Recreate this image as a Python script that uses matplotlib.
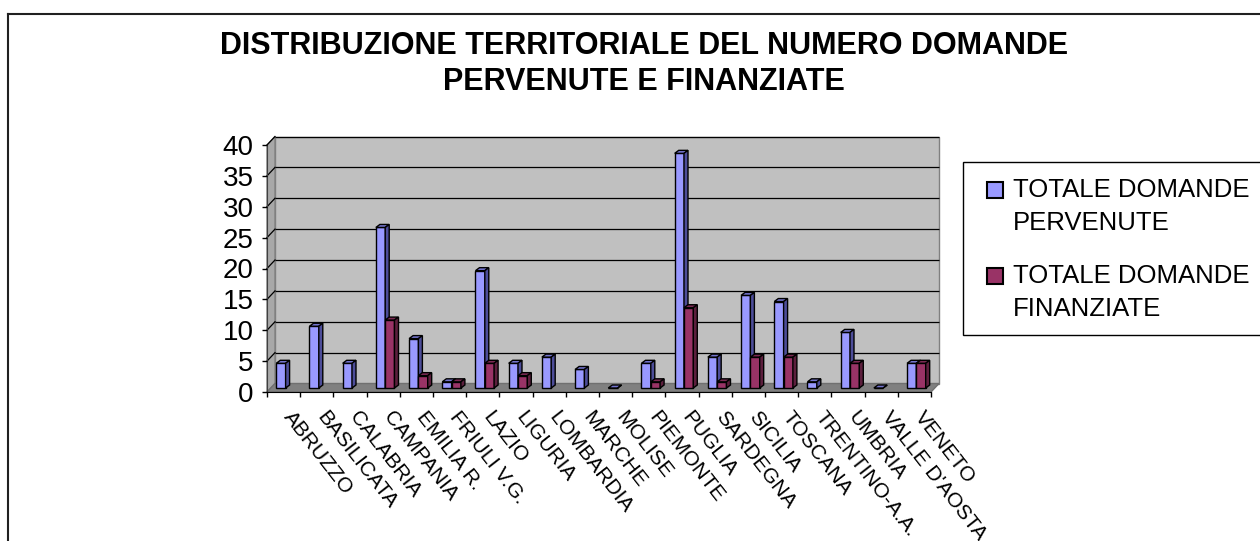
import numpy as np
import matplotlib
matplotlib.use("Agg")
import matplotlib.pyplot as plt
from matplotlib.patches import Polygon, Rectangle
from matplotlib.lines import Line2D
from matplotlib.transforms import offset_copy, IdentityTransform

# valori
regioni = ["ABRUZZO", "BASILICATA", "CALABRIA", "CAMPANIA", "EMILIA R.", "FRIULI V.G.",
           "LAZIO", "LIGURIA", "LOMBARDIA", "MARCHE", "MOLISE", "PIEMONTE", "PUGLIA",
           "SARDEGNA", "SICILIA", "TOSCANA", "TRENTINO-A.A.", "UMBRIA", "VALLE D'AOSTA", "VENETO"]
pervenute = [4, 10, 4, 26, 8, 1, 19, 4, 5, 3, 0, 4, 38, 5, 15, 14, 1, 9, 0, 4]
finanziate = [0, 0, 0, 11, 2, 1, 4, 2, 0, 0, 0, 1, 13, 1, 5, 5, 0, 4, 0, 4]
y_ticks = [0, 5, 10, 15, 20, 25, 30, 35, 40]
serie = [["TOTALE DOMANDE", "PERVENUTE"], ["TOTALE DOMANDE", "FINANZIATE"]]
colori = ["#9999FF", "#993366"]
lati = ["#4D4D99", "#5C1F3D"]
tetti = ["#7373CC", "#7A2952"]

W, H, DPI = 1260, 541, 100
plt.rcParams['font.family'] = ['Liberation Sans', 'DejaVu Sans']

fig = plt.figure(figsize=(W / DPI, H / DPI), dpi=DPI)


def fx(px):
    return px / W


def fy(py):
    return 1 - py / H


# front face of the plot box
n = len(regioni)
ax = fig.add_axes([fx(267), fy(392), (931 - 267) / W, (392 - 145) / H])
ax.set_xlim(0, n)
ax.set_ylim(0, 40)
ax.patch.set_visible(False)

DX, DY = 8, 8.5  # depth of the box in pixels
d = np.array([DX, DY])
back = offset_copy(ax.transData, fig=fig, x=DX, y=DY, units='dots')
pix = IdentityTransform()

# back wall with gridlines
ax.add_patch(Rectangle((0, 0), n, 40, transform=back, facecolor='#C0C0C0',
                       edgecolor='#808080', lw=1, clip_on=False, zorder=0.1))
ax.hlines(y_ticks[1:], 0, n, colors='black', lw=0.9, transform=back,
          clip_on=False, zorder=0.2)

# side wall and floor
p00 = ax.transData.transform((0, 0))
p0t = ax.transData.transform((0, 40))
pn0 = ax.transData.transform((n, 0))
ax.add_patch(Polygon([p00, p0t, p0t + d, p00 + d], transform=pix, facecolor='#A8A8A8',
                     edgecolor='#808080', lw=1, clip_on=False, zorder=0.15))
ax.add_patch(Polygon([p00, pn0, pn0 + d, p00 + d], transform=pix, facecolor='#808080',
                     edgecolor='#707070', lw=1, clip_on=False, zorder=0.15))
for v in y_ticks[1:]:
    p = ax.transData.transform((0, v))
    ax.add_line(Line2D([p[0], p[0] + DX], [p[1], p[1] + DY], transform=pix,
                       color='black', lw=0.9, clip_on=False, zorder=0.2))

# bars (front face sits halfway in the box, top and side faces drawn on top)
x = np.arange(n)
larg = 0.28
inizio = [0.28, 0.56]
face = offset_copy(ax.transData, fig=fig, x=0, y=4, units='dots')
BX, BY = 4, 3
for s, vals in enumerate([pervenute, finanziate]):
    vals = np.asarray(vals, dtype=float)
    if s == 1:
        vals = np.where(vals > 0, vals, np.nan)  # celle vuote
    bars = ax.bar(x + inizio[s], vals, width=larg, align='edge', color=colori[s],
                  edgecolor='black', linewidth=1, transform=face, clip_on=False)
    for i, b in enumerate(bars):
        z = 1 + 2 * i + s
        b.set_zorder(z)
        if np.isnan(vals[i]):
            continue
        (x0, y0), (x1, y1) = face.transform([(b.get_x(), 0),
                                             (b.get_x() + b.get_width(), b.get_height())])
        top = [(x0, y1), (x1, y1), (x1 + BX, y1 + BY), (x0 + BX, y1 + BY)]
        side = [(x1, y0), (x1 + BX, y0 + BY), (x1 + BX, y1 + BY), (x1, y1)]
        ax.add_patch(Polygon(top, transform=pix, facecolor=tetti[s], edgecolor='black',
                             lw=1, clip_on=False, zorder=z))
        ax.add_patch(Polygon(side, transform=pix, facecolor=lati[s], edgecolor='black',
                             lw=1, clip_on=False, zorder=z))

ax.set_xlim(0, n)
ax.set_ylim(0, 40)

# axes and ticks
for sp in ['top', 'right']:
    ax.spines[sp].set_visible(False)
ax.spines['left'].set_color('#404040')
ax.spines['bottom'].set_color('black')
ax.spines['left'].set_zorder(0.3)
ax.set_yticks(y_ticks)
ax.tick_params(axis='y', direction='out', length=3.6, width=1, labelsize=20, pad=6)
ax.set_xticks(np.arange(n + 1))
ax.set_xticklabels([])
ax.set_xticks(x + 0.5 + 0.34, regioni, minor=True, rotation=-52, ha='left', va='top',
              rotation_mode='anchor')
ax.tick_params(axis='x', which='major', direction='out', length=3.6, width=1)
ax.tick_params(axis='x', which='minor', length=0, pad=11.5, labelsize=15)

# title
fig.text(fx(644), fy(54), "DISTRIBUZIONE TERRITORIALE DEL NUMERO DOMANDE",
         ha='center', va='baseline', fontsize=22, fontweight='bold')
fig.text(fx(644), fy(90), "PERVENUTE E FINANZIATE",
         ha='center', va='baseline', fontsize=22, fontweight='bold')

# legend
fig.add_artist(Rectangle((fx(963), fy(335)), fx(1290) - fx(963), (335 - 162) / H,
                         transform=fig.transFigure, facecolor='white', edgecolor='black',
                         lw=1, clip_on=False))
for k, (righe, yc) in enumerate(zip(serie, [190, 276])):
    fig.add_artist(Rectangle((fx(987), fy(yc + 8)), 16 / W, 16 / H, transform=fig.transFigure,
                             facecolor=colori[k], edgecolor='black', lw=1.5))
    fig.text(fx(1013), fy(yc + 7), righe[0], ha='left', va='baseline', fontsize=18.5)
    fig.text(fx(1013), fy(yc + 40), righe[1], ha='left', va='baseline', fontsize=18.5)

# outer frame (only left and top edges fall inside the picture)
fig.add_artist(Line2D([fx(8), fx(8)], [fy(14), 0], transform=fig.transFigure,
                      color='#202020', lw=1.5))
fig.add_artist(Line2D([fx(8), 1], [fy(14), fy(14)], transform=fig.transFigure,
                      color='#202020', lw=1.5))

fig.savefig('out.png', dpi=DPI)
